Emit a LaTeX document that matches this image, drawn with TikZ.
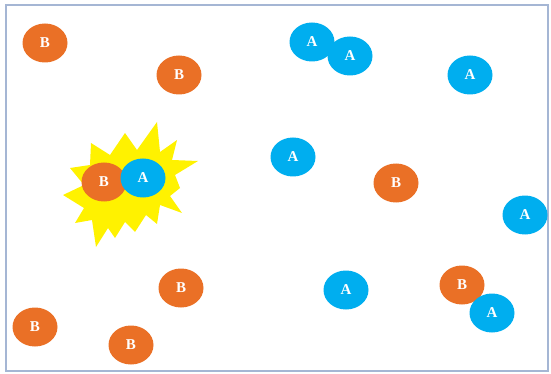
\documentclass[tikz,border=0pt]{standalone}
\usepackage{fontspec}
\setmainfont{Liberation Serif}
\usetikzlibrary{shapes.geometric}
\definecolor{partorange}{RGB}{234,112,38}
\definecolor{partblue}{RGB}{0,174,239}
\definecolor{boxline}{RGB}{165,182,212}
\begin{document}
\begin{tikzpicture}[x=1pt, y=-1pt,
    part/.style={ellipse, minimum width=45pt, minimum height=39pt, inner sep=0pt,
      text=white, font=\bfseries\fontsize{15}{15}\selectfont},
    partB/.style={part, fill=partorange},
    partA/.style={part, fill=partblue}]
    \useasboundingbox (0,0) rectangle (551,374);
    % Box
    \draw[boxline, line width=1.6pt] (6,5) rectangle (548,371);

    % Collision flash
    \fill[yellow] (125,133) -- (137,150) -- (157,122) -- (160,152) -- (177,140)
      -- (172,160) -- (198,161) -- (175,175) -- (180,188) -- (170,196)
      -- (182,213) -- (160,205) -- (157,224) -- (146,215) -- (135,232)
      -- (125,222) -- (115,238) -- (108,228) -- (96,247) -- (92,220)
      -- (75,223) -- (84,208) -- (63,195) -- (84,185) -- (70,168)
      -- (90,165) -- (91,143) -- (110,155) -- cycle;

    % Particles B
    \node[partB] (b1) at (45,43) {B};
    \node[partB] (b2) at (179,75) {B};
    \node[partB] (b3) at (396,183) {B};
    \node[partB] (b4) at (104,182) {B};
    \node[partB] (b5) at (181,288) {B};
    \node[partB] (b6) at (462,285) {B};
    \node[partB] (b7) at (35,327) {B};
    \node[partB] (b8) at (131,345) {B};

    % Particles A
    \node[partA] (a1) at (312,42) {A};
    \node[partA] (a2) at (350,56) {A};
    \node[partA] (a3) at (470,75) {A};
    \node[partA] (a4) at (293,157) {A};
    \node[partA] (a5) at (143,178) {A};
    \node[partA] (a6) at (525,215) {A};
    \node[partA] (a7) at (346,290) {A};
    \node[partA] (a8) at (492,313) {A};
\end{tikzpicture}
\end{document}
